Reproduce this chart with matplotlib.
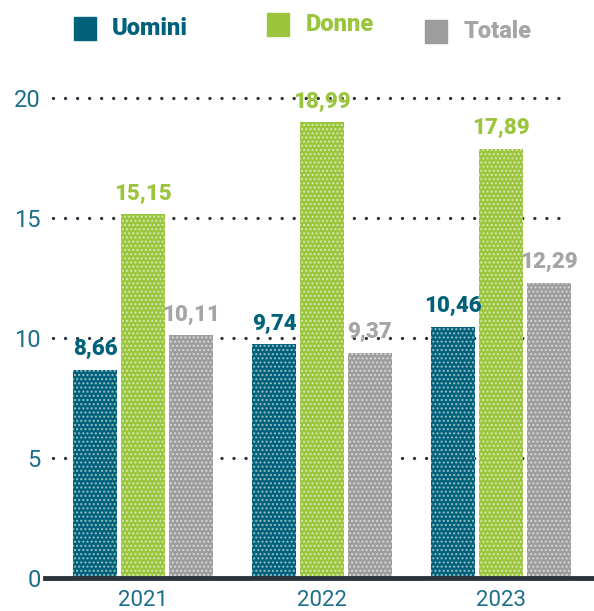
import matplotlib
matplotlib.use('Agg')
import matplotlib.pyplot as plt
from matplotlib.patches import Rectangle
import numpy as np

years = ['2021', '2022', '2023']
series = ['Uomini', 'Donne', 'Totale']
uomini = [8.66, 9.74, 10.46]
donne = [15.15, 18.99, 17.89]
totale = [10.11, 9.37, 12.29]
yticks = [0, 5, 10, 15, 20]

values = [uomini, donne, totale]
colors = ['#00617B', '#9BC53D', '#9D9D9D']
label_colors = ['#00617B', '#9BC53D', '#A5A5A5']
teal = '#1B6F8A'

plt.rcParams['font.family'] = ['Roboto', 'DejaVu Sans']
plt.rcParams['hatch.color'] = (1, 1, 1, 0.55)
plt.rcParams['hatch.linewidth'] = 1.0

W, H = 594, 611
fig = plt.figure(figsize=(W / 100, H / 100), dpi=100)
ax = fig.add_axes([45 / W, (H - 578) / H, 549 / W, (578 - 86) / H])
ax.set_ylim(0, 20.5)
ax.set_xlim(-0.547, 2.52)

x = np.arange(len(years))
offsets = [-0.268, 0.0, 0.268]
width = 0.246

for yv in yticks[1:]:
    ax.axhline(yv, xmin=0.0146, xmax=0.956, color='#2B333D', lw=2.4,
               linestyle=(0, (0.01, 3.6)), dash_capstyle='round', zorder=1)

for i, (vals, c, lc) in enumerate(zip(values, colors, label_colors)):
    ax.bar(x + offsets[i], vals, width, color=c, zorder=2,
           linewidth=0, hatch='....')
    for xi, v in zip(x + offsets[i], vals):
        ax.annotate(f"{v:.2f}".replace('.', ','), (xi, v), xytext=(0, 7),
                    textcoords='offset points', ha='center', va='bottom',
                    fontsize=16, fontweight='heavy', color=lc, zorder=3)

ax.axhline(0, color='#2B333D', lw=3.5, zorder=4, clip_on=False)

for s in ax.spines.values():
    s.set_visible(False)
ax.set_yticks(yticks)
ax.set_yticklabels([str(t) for t in yticks])
ax.set_xticks(x)
ax.set_xticklabels(years)
ax.tick_params(axis='y', length=0, pad=3, labelsize=17, labelcolor=teal)
ax.tick_params(axis='x', length=0, pad=9, labelsize=16, labelcolor=teal)

# legend
sq_x = [74, 267, 425]
sq_y = [17, 13, 20]
txt_x = [112, 306, 464]
for name, c, lc, sx, sy, tx in zip(series, colors, label_colors, sq_x, sq_y, txt_x):
    fig.add_artist(Rectangle((sx / W, 1 - (sy + 23) / H), 22 / W, 23 / H,
                             transform=fig.transFigure, color=c))
    fig.text(tx / W, 1 - (sy + 11.5) / H, name, ha='left', va='center',
             fontsize=17, fontweight='heavy', color=lc)

fig.savefig('out.png', dpi=100)
